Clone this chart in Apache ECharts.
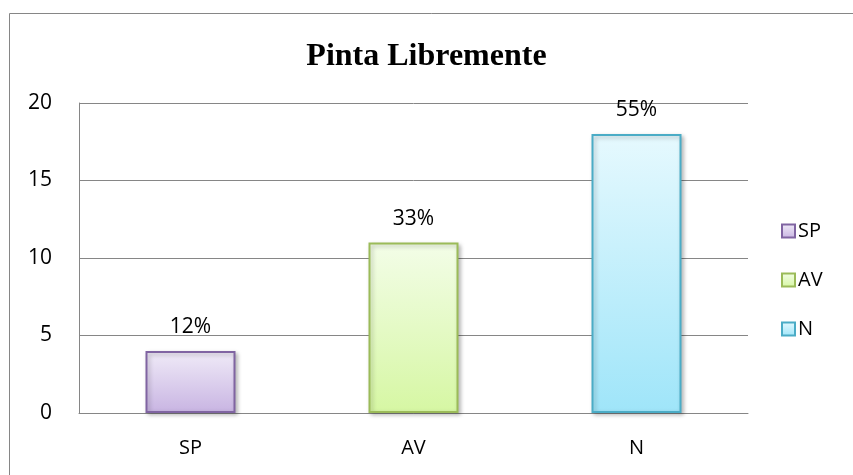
<!DOCTYPE html>
<html>
<head>
<meta charset="utf-8">
<script src="https://cdn.jsdelivr.net/npm/echarts@6/dist/echarts.min.js"></script>
<style>
  html, body { margin: 0; padding: 0; background: #fff; }
  #chart { width: 853px; height: 475px; }
</style>
</head>
<body>
<div id="chart"></div>
<script>
// datos del grafico
const categories = ['SP', 'AV', 'N']
const values = [4, 11, 18]
const pctLabels = ['12%', '33%', '55%']
const yTicks = [0, 5, 10, 15, 20]

// colores: borde, degradado arriba, degradado abajo
const borderColors = ['#8064A2', '#9BBB59', '#4BACC6']
const topColors = ['#F0EBF8', '#F3FDE8', '#E6F9FE']
const bottomColors = ['#C8B4E2', '#D6F7A3', '#9FE5F9']

const chart = echarts.init(document.getElementById('chart'))
const font = 'Open Sans'

const fillFor = (i) => new echarts.graphic.LinearGradient(0, 0, 0, 1, [
  { offset: 0, color: topColors[i] },
  { offset: 1, color: bottomColors[i] }
])

const series = categories.map((name, i) => ({
  name: name,
  type: 'bar',
  stack: 'total',
  barWidth: 90,
  data: categories.map((c, j) => (j === i ? values[i] : '-')),
  itemStyle: {
    color: fillFor(i),
    borderColor: borderColors[i],
    borderWidth: 2,
    shadowColor: 'rgba(0,0,0,0.25)',
    shadowBlur: 4,
    shadowOffsetX: 2,
    shadowOffsetY: 2
  },
  label: {
    show: true,
    position: 'top',
    distance: 13,
    formatter: () => pctLabels[i],
    color: '#000',
    fontFamily: font,
    fontSize: 21
  }
}))

const option = {
  animation: false,
  graphic: [{
    type: 'rect',
    shape: { x: 9.5, y: 13.5, width: 900, height: 500 },
    style: { fill: 'none', stroke: '#868686', lineWidth: 1 },
    silent: true
  }],
  title: {
    text: 'Pinta Libremente',
    left: 'center',
    top: 36,
    textStyle: {
      fontFamily: 'Liberation Serif',
      fontWeight: 'bold',
      fontSize: 32,
      color: '#000'
    }
  },
  legend: {
    orient: 'vertical',
    left: 776,
    top: 216,
    itemWidth: 13,
    itemHeight: 13,
    itemGap: 29,
    textStyle: { fontFamily: font, fontSize: 20, color: '#000', padding: [0, 0, 0, -2] },
    data: categories.map((name, i) => ({
      name: name,
      icon: 'rect',
      itemStyle: { color: fillFor(i), borderColor: borderColors[i], borderWidth: 2 }
    }))
  },
  grid: { left: 79, right: 105, top: 103, bottom: 62 },
  xAxis: {
    type: 'category',
    data: categories,
    axisLine: { show: true, lineStyle: { color: '#868686', width: 1 } },
    axisTick: { show: false },
    axisLabel: { color: '#000', fontFamily: font, fontSize: 20, margin: 25 }
  },
  yAxis: {
    type: 'value',
    min: yTicks[0],
    max: yTicks[yTicks.length - 1],
    interval: yTicks[1] - yTicks[0],
    axisLine: { show: true, lineStyle: { color: '#868686', width: 1 } },
    axisTick: { show: false },
    splitLine: { show: true, lineStyle: { color: '#868686', width: 1 } },
    axisLabel: { color: '#000', fontFamily: font, fontSize: 21, margin: 27 }
  },
  series: series
}

chart.setOption(option)
</script>
</body>
</html>
